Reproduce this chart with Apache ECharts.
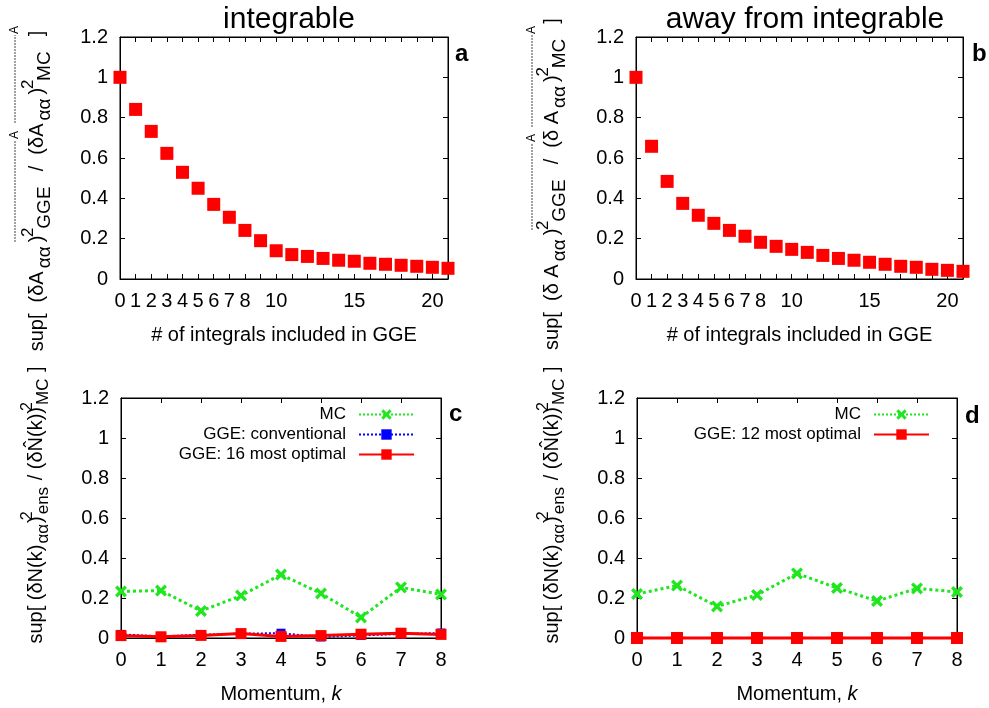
<!DOCTYPE html>
<html>
<head>
<meta charset="utf-8">
<script src="https://cdn.jsdelivr.net/npm/echarts@6/dist/echarts.min.js"></script>
<style>
html,body{margin:0;padding:0;background:#fff;}
#chart{width:989px;height:708px;}
</style>
</head>
<body>
<div id="chart"></div>
<script>
// ---------- data ----------
const integralCounts = [0,1,2,3,4,5,6,7,8,9,10,11,12,13,14,15,16,17,18,19,20,21];
const integrableRatio = [1.0,0.841,0.732,0.623,0.529,0.450,0.370,0.306,0.241,0.190,0.140,0.121,0.112,0.102,0.093,0.088,0.078,0.073,0.068,0.063,0.058,0.053];
const awayRatio = [1.0,0.658,0.484,0.375,0.316,0.276,0.241,0.212,0.182,0.162,0.147,0.132,0.117,0.102,0.093,0.083,0.073,0.063,0.058,0.048,0.043,0.038];
const momenta = [0,1,2,3,4,5,6,7,8];
const mcIntegrable = [0.233,0.237,0.135,0.212,0.317,0.223,0.103,0.253,0.218];
const ggeConventional = [0.018,0.008,0.016,0.022,0.024,0.005,0.013,0.020,0.025];
const gge16Optimal = [0.012,0.006,0.013,0.022,0.008,0.012,0.019,0.024,0.018];
const mcAway = [0.220,0.262,0.158,0.215,0.323,0.250,0.185,0.248,0.230];
const gge12Optimal = [0,0,0,0,0,0,0,0,0];
const xTickLabelsTop = [0,1,2,3,4,5,6,7,8,10,15,20];
const yTicks = [0,0.2,0.4,0.6,0.8,1.0,1.2];

const zip = (xs, ys) => xs.map((x, i) => [x, ys[i]]);
const FONT = 'Liberation Sans, Arial, sans-serif';
const GREEN = '#1fe61f', BLUE = '#0000ff', RED = '#ff0000';

const gridBase = {show:true, borderColor:'#000', borderWidth:1, backgroundColor:'transparent'};
const grids = [
  Object.assign({left:120, top:37, width:328, height:242}, gridBase),
  Object.assign({left:636, top:37, width:327, height:242}, gridBase),
  Object.assign({left:121, top:398, width:320, height:240}, gridBase),
  Object.assign({left:637, top:398, width:320, height:240}, gridBase)
];

const axisLineStyle = () => ({show:true, onZero:false, lineStyle:{color:'#000', width:1}});
const tickStyle = () => ({show:true, inside:true, length:5, lineStyle:{color:'#000', width:1}});
const blankLabel = () => ({show:true, formatter:() => '', color:'rgba(0,0,0,0)'});

function xAxes(gi, max, labelFmt, name) {
  return [
    {type:'value', gridIndex:gi, position:'bottom', min:0, max:max, interval:1,
     axisLine:axisLineStyle(), axisTick:tickStyle(), splitLine:{show:false},
     axisLabel:{fontSize:20, fontFamily:FONT, color:'#000', margin:12, formatter:labelFmt, hideOverlap:false},
     name:name, nameLocation:'middle', nameGap:46,
     nameTextStyle:{fontSize:20, fontFamily:FONT, color:'#000', rich:{i:{fontSize:20, fontFamily:FONT, fontStyle:'italic', color:'#000'}}}},
    {type:'value', gridIndex:gi, position:'top', min:0, max:max, interval:1,
     axisLine:axisLineStyle(), axisTick:tickStyle(), splitLine:{show:false}, axisLabel:blankLabel()}
  ];
}
function yAxes(gi) {
  return [
    {type:'value', gridIndex:gi, position:'left', min:0, max:1.2, interval:0.2,
     axisLine:axisLineStyle(), axisTick:tickStyle(), splitLine:{show:false},
     axisLabel:{fontSize:20, fontFamily:FONT, color:'#000', margin:12,
       formatter: v => { const t = yTicks.find(y => Math.abs(y - v) < 1e-6); return t === undefined ? '' : String(+t.toFixed(1)); }}},
    {type:'value', gridIndex:gi, position:'right', min:0, max:1.2, interval:0.2,
     axisLine:axisLineStyle(), axisTick:tickStyle(), splitLine:{show:false}, axisLabel:blankLabel()}
  ];
}

const fmtIntegrals = v => xTickLabelsTop.includes(Math.round(v)) && Math.abs(v - Math.round(v)) < 1e-6 ? String(Math.round(v)) : '';
const fmtMomentum = v => String(Math.round(v));

const nameA = 'sup[  (δA{s|αα}){p|2}{s|GGE}  /  (δA{s|αα}){p|2}{s|MC}  ]';
const nameB = 'sup[  (δ A{s|αα}){p|2}{s|GGE}  /  (δ A{s|αα}){p|2}{s|MC}  ]';
const nameC = 'sup[ (δN(k){c|αα}){q|2}{c|ens} / (δN\u0302(k)){q|2}{c|MC} ]';

const xAxis = [].concat(
  xAxes(0, 21, fmtIntegrals, '# of integrals included in GGE'),
  xAxes(1, 21, fmtIntegrals, '# of integrals included in GGE'),
  xAxes(2, 8, fmtMomentum, 'Momentum, {i|k}'),
  xAxes(3, 8, fmtMomentum, 'Momentum, {i|k}')
);
const yAxis = [].concat(yAxes(0), yAxes(1), yAxes(2), yAxes(3));

const xMark = 'path://M2,0 L5,3 L8,0 L10,2 L7,5 L10,8 L8,10 L5,7 L2,10 L0,8 L3,5 L0,2 Z';

const series = [
  {name:'integrable', type:'scatter', xAxisIndex:0, yAxisIndex:0, data:zip(integralCounts, integrableRatio),
   symbol:'rect', symbolSize:13, itemStyle:{color:RED, opacity:1}, clip:false},
  {name:'away', type:'scatter', xAxisIndex:2, yAxisIndex:2, data:zip(integralCounts, awayRatio),
   symbol:'rect', symbolSize:13, itemStyle:{color:RED, opacity:1}, clip:false},
  {name:'MC', type:'line', xAxisIndex:4, yAxisIndex:4, data:zip(momenta, mcIntegrable),
   symbol:xMark, symbolSize:12, itemStyle:{color:GREEN}, lineStyle:{color:GREEN, width:3, type:'dotted'}, clip:false},
  {name:'GGE: conventional', type:'line', xAxisIndex:4, yAxisIndex:4, data:zip(momenta, ggeConventional),
   symbol:'rect', symbolSize:9, itemStyle:{color:BLUE}, lineStyle:{color:BLUE, width:2, type:'dotted'}, clip:false},
  {name:'GGE: 16 most optimal', type:'line', xAxisIndex:4, yAxisIndex:4, data:zip(momenta, gge16Optimal),
   symbol:'rect', symbolSize:11, itemStyle:{color:RED}, lineStyle:{color:RED, width:3}, clip:false},
  {name:'MC', type:'line', xAxisIndex:6, yAxisIndex:6, data:zip(momenta, mcAway),
   symbol:xMark, symbolSize:12, itemStyle:{color:GREEN}, lineStyle:{color:GREEN, width:3, type:'dotted'}, clip:false},
  {name:'GGE: 12 most optimal', type:'line', xAxisIndex:6, yAxisIndex:6, data:zip(momenta, gge12Optimal),
   symbol:'rect', symbolSize:12, itemStyle:{color:RED}, lineStyle:{color:RED, width:3}, clip:false}
];

const legendCommon = {orient:'vertical', align:'right', itemWidth:55, itemHeight:13, itemGap:3, padding:0,
  selectedMode:false, textStyle:{fontSize:17, fontFamily:FONT, color:'#000', padding:[0,8,0,0]}};

const titleStyle = {fontSize:30, fontWeight:'normal', fontFamily:FONT, color:'#000'};

const richG = {
  s:{fontSize:19, fontFamily:FONT, fill:'#000', verticalAlign:'bottom', lineHeight:34, padding:[0,4,0,3]},
  p:{fontSize:17, fontFamily:FONT, fill:'#000', verticalAlign:'top', lineHeight:34, width:1, align:'left', padding:[0,0,0,3]},
  c:{fontSize:17, fontFamily:FONT, fill:'#000', verticalAlign:'bottom', lineHeight:32, padding:[0,1,0,1]},
  q:{fontSize:16, fontFamily:FONT, fill:'#000', verticalAlign:'top', lineHeight:32, width:1, align:'left'}
};
function ylabel(text, x, y, lh) {
  return {type:'text', x:x, y:y, rotation:Math.PI/2, z:10,
    style:{text:text, rich:richG, fontSize:20, fontFamily:FONT, fill:'#000', lineHeight:lh, align:'center', verticalAlign:'middle'}};
}
function panelLabel(t, x, y) {
  return {type:'text', x:x, y:y, style:{text:t, fontSize:24, fontWeight:'bold', fontFamily:FONT, fill:'#000', align:'left', verticalAlign:'top'}};
}
function overline(x, y1, y2, ya) {
  return [
    {type:'line', shape:{x1:x, y1:y1, x2:x, y2:y2}, style:{stroke:'#444', lineWidth:1, lineDash:[2,1]}},
    {type:'text', x:x, y:ya, rotation:Math.PI/2, style:{text:'A', fontSize:12, fontFamily:FONT, fill:'#000', align:'center', verticalAlign:'middle'}}
  ];
}

const option = {
  backgroundColor:'#fff',
  animation:false,
  title:[
    {text:'integrable', left:284, top:0, textAlign:'center', textStyle:titleStyle},
    {text:'away from integrable', left:800, top:0, textAlign:'center', textStyle:titleStyle}
  ],
  grid:grids,
  xAxis:xAxis,
  yAxis:yAxis,
  legend:[
    Object.assign({data:['MC','GGE: conventional','GGE: 16 most optimal'], right:574, top:406}, legendCommon),
    Object.assign({data:['MC','GGE: 12 most optimal'], right:59, top:406}, legendCommon)
  ],
  graphic:[].concat(
    [ylabel(nameA, 37, 191, 34), ylabel(nameB, 552, 184, 34), ylabel(nameC, 36, 505, 32), ylabel(nameC, 552, 505, 32)],
    [panelLabel('a', 455, 42), panelLabel('b', 972, 42), panelLabel('c', 449, 402), panelLabel('d', 965, 404)],
    overline(15, 242, 140, 135), overline(15, 123, 35, 30),
    overline(532, 230, 143, 138), overline(532, 127, 35, 30)
  ),
  series:series
};

const chart = echarts.init(document.getElementById('chart'), null, {renderer:'canvas'});
chart.setOption(option);
</script>
</body>
</html>
